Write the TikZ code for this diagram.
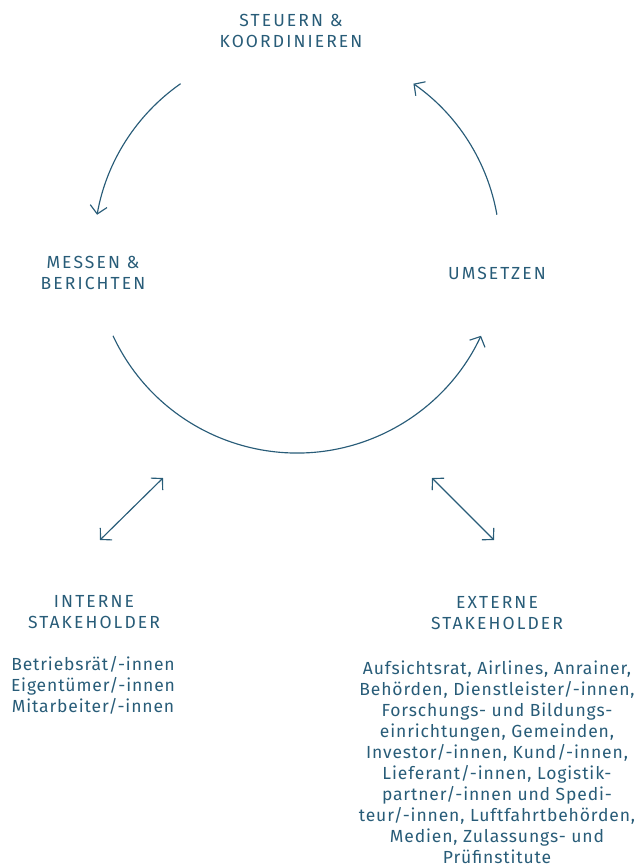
\documentclass[tikz,border=0pt]{standalone}
\usepackage{fontspec}
\setmainfont{Fira Sans}[LetterSpace=5]
\newfontfamily\capsfont{Fira Sans}[LetterSpace=12]
\usetikzlibrary{arrows.meta,calc}
\definecolor{ink}{RGB}{40,92,120}
\tikzset{
  label/.style={text=ink, align=center, inner sep=0pt, anchor=base,
    font=\fontsize{17.5pt}{21pt}\selectfont},
  heading/.style={label, font=\capsfont\fontsize{17.5pt}{21pt}\selectfont},
}
\begin{document}
\begin{tikzpicture}[x=1pt, y=1pt, >={Straight Barb[length=8pt,width=17pt]},
    line width=1.15pt]
\useasboundingbox (0,0) rectangle (636,-868);
% cycle
\coordinate (c) at (297,-250);
\draw[ink,->] ($(c)+(125:203)$) arc (125:170:203);
\draw[ink,->] ($(c)+(10:203)$) arc (10:55:203);
\draw[ink,->] ($(c)+(205:203)$) arc (205:335:203);
% base anchor = last line
\node[heading] (steer) at (291,-47) {STEUERN \&\\KOORDINIEREN};
\node[heading] (measure) at (93,-289) {MESSEN \&\\BERICHTEN};
\node[heading] (implement) at (497,-279) {UMSETZEN};
% stakeholders
\node[heading] (internal) at (94,-628) {INTERNE\\STAKEHOLDER};
\node[heading] (external) at (497,-629) {EXTERNE\\STAKEHOLDER};
\node[label] (intlist) at (93,-712) {Betriebsrät/-innen\\Eigentümer/-innen\\Mitarbeiter/-innen};
\node[label] (extlist) at (497,-863) {Aufsichtsrat, Airlines, Anrainer,\\Behörden, Dienstleister/-innen,\\Forschungs- und Bildungs-\\einrichtungen, Gemeinden,\\Investor/-innen, Kund/-innen,\\Lieferant/-innen, Logistik-\\partner/-innen und Spedi-\\teur/-innen, Luftfahrtbehörden,\\Medien, Zulassungs- und\\Prüfinstitute};
\coordinate (inA) at (100,-540);
\coordinate (inB) at (163,-478);
\coordinate (exA) at (432,-478);
\coordinate (exB) at (494,-540);
\draw[ink,<->] (inA) -- (inB);
\draw[ink,<->] (exA) -- (exB);
\end{tikzpicture}
\end{document}
